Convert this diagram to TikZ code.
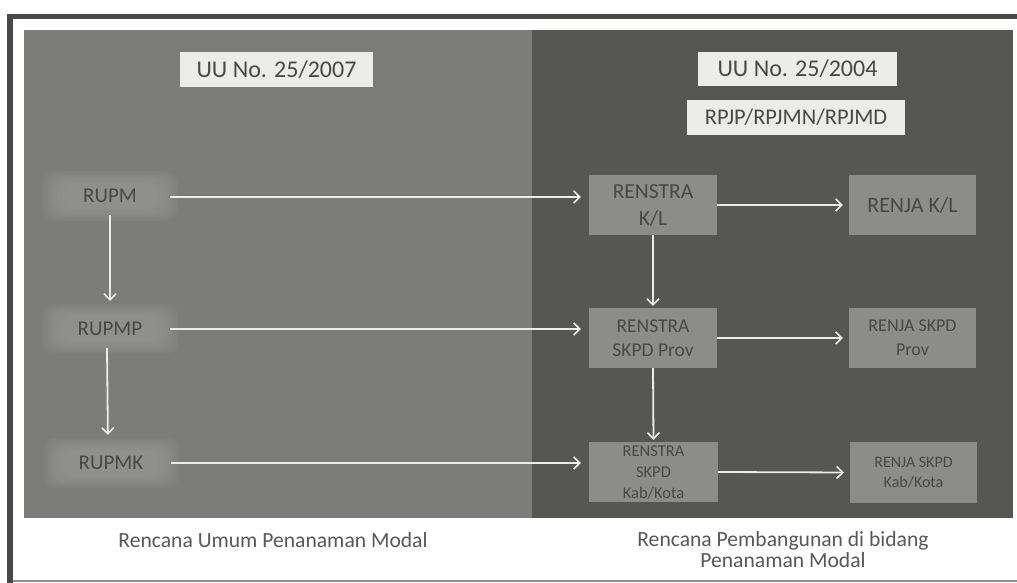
\documentclass[tikz,border=0pt]{standalone}
\usepackage{fontspec}
\setmainfont{Carlito}
\usetikzlibrary{arrows.meta}
\definecolor{leftbg}{RGB}{124,124,122}
\definecolor{rightbg}{RGB}{86,86,83}
\definecolor{boxfill}{RGB}{140,140,138}
\definecolor{glowfill}{RGB}{156,156,154}
\definecolor{hdrfill}{RGB}{236,236,234}
\definecolor{txt}{RGB}{72,72,72}
\definecolor{captxt}{RGB}{88,88,88}
\definecolor{framec}{RGB}{72,72,70}
\definecolor{arrc}{RGB}{236,236,236}
\tikzset{
  hdr/.style={fill=hdrfill, draw=none, inner sep=0pt, text=txt},
  glowbox/.style={draw=none, minimum width=120pt, minimum height=38pt, inner sep=0pt, font=\fontsize{21}{25}\selectfont, text=txt},
  glowlayer/.style={fill=glowfill, fill opacity=0.14, draw=none, rounded corners=12pt},
  rbox/.style={fill=boxfill, draw=none, inner sep=0pt, align=center, text=txt},
  conn/.style={draw=arrc, line width=1.8pt, -{Straight Barb[length=6pt,width=12pt,line width=1.6pt]}},
  captext/.style={font=\fontsize{21.6}{21}\selectfont, text=captxt, align=center}
}
\begin{document}
\begin{tikzpicture}[x=1pt,y=-1pt]
\useasboundingbox (0,0) rectangle (1017,583);
\fill[white] (0,0) rectangle (1017,583);
% frame
\fill[framec] (7,14) rectangle (1017,19);
\fill[framec] (7,14) rectangle (13,583);
\fill[framec!60] (13,580) rectangle (1017,582);
% panels
\fill[leftbg] (24,30) rectangle (532,518);
\fill[rightbg] (532,30) rectangle (1013,518);
% soft glow behind left labels
\foreach \cx/\cy in {110/196, 110/329, 111/463}{
  \foreach \w/\h in {136/50, 130/46, 124/42, 118/38, 112/34, 104/30, 96/26}{
    \fill[glowlayer] (\cx-\w/2,\cy-\h/2) rectangle (\cx+\w/2,\cy+\h/2);
  }
}
% header boxes
\node[hdr, minimum width=193pt, minimum height=35pt, font=\fontsize{24}{28}\selectfont] (h1) at (276.5,69.5) {UU No. 25/2007};
\node[hdr, minimum width=199pt, minimum height=34pt, font=\fontsize{24}{28}\selectfont] (h2) at (797.5,69) {UU No. 25/2004};
\node[hdr, minimum width=218pt, minimum height=35pt, font=\fontsize{22.4}{26}\selectfont] (h3) at (796,117.5) {RPJP/RPJMN/RPJMD};
% left nodes
\node[glowbox] (rupm) at (110,196) {RUPM};
\node[glowbox] (rupmp) at (110,329) {RUPMP};
\node[glowbox] (rupmk) at (111,463) {RUPMK};
% right nodes
\node[rbox, minimum width=128pt, minimum height=60pt, font=\fontsize{21.5}{27}\selectfont] (rs1) at (653,205) {RENSTRA\\K/L};
\node[rbox, minimum width=127pt, minimum height=60pt, font=\fontsize{22}{27}\selectfont] (rj1) at (912.5,205) {RENJA K/L};
\node[rbox, minimum width=128pt, minimum height=60pt, font=\fontsize{19.5}{24}\selectfont] (rs2) at (653,338) {RENSTRA\\SKPD Prov};
\node[rbox, minimum width=127pt, minimum height=60pt, font=\fontsize{18}{24}\selectfont] (rj2) at (912.5,338) {RENJA SKPD\\Prov};
\node[rbox, minimum width=129pt, minimum height=60pt, font=\fontsize{16.5}{21}\selectfont] (rs3) at (653.5,472) {RENSTRA\\SKPD\\Kab/Kota};
\node[rbox, minimum width=127pt, minimum height=61pt, font=\fontsize{16}{20}\selectfont] (rj3) at (913.5,472.5) {RENJA SKPD\\Kab/Kota};
% captions
\node[captext] (c1) at (273,540) {Rencana Umum Penanaman Modal};
\node[captext] (c2) at (783,550) {Rencana Pembangunan di bidang\\Penanaman Modal};
% connectors
\draw[conn, shorten >=8pt] ([yshift=-1pt]rupm.east) -- ([yshift=-1pt]rupm.east -| rs1.west);
\draw[conn, shorten >=8pt] (rupmp.east) -- (rupmp.east -| rs2.west);
\draw[conn, shorten >=8pt] (rupmk.east) -- (rupmk.east -| rs3.west);
\draw[conn, shorten >=6pt] (rs1.east) -- (rj1.west);
\draw[conn, shorten >=6pt] (rs2.east) -- (rj2.west);
\draw[conn, shorten >=6pt] (rs3.east) -- (rj3.west);
\draw[conn, shorten >=9pt] (rupm.south) -- (rupmp.north);
\draw[conn, shorten >=9pt] ([xshift=-3pt]rupmp.south) -- ([xshift=-3pt]rupmk.north);
\draw[conn, shorten >=2pt] (rs1.south) -- (rs2.north);
\draw[conn, shorten >=2pt] (rs2.south) -- (rs3.north);
\end{tikzpicture}
\end{document}
